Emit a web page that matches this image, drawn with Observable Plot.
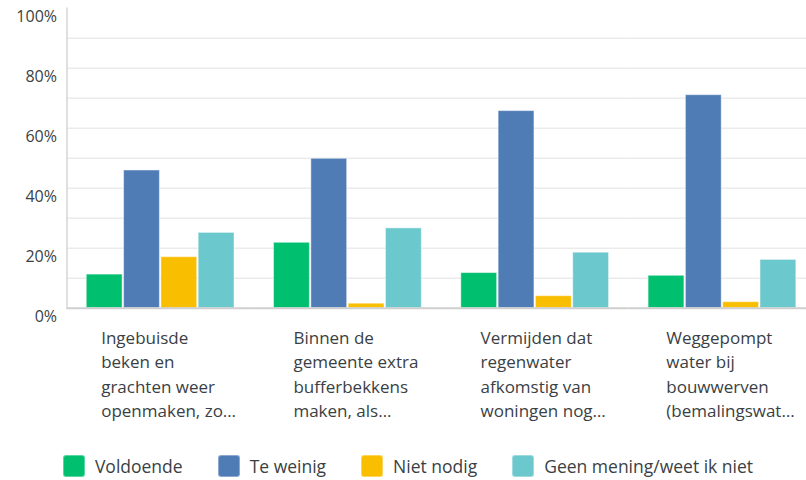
<!DOCTYPE html>
<html>
<head>
<meta charset="utf-8">
<script src="https://cdn.jsdelivr.net/npm/d3@7"></script>
<script src="https://cdn.jsdelivr.net/npm/@observablehq/plot@0.6"></script>
<style>
  html, body { margin: 0; padding: 0; background: #fff; }
  #chart svg { display: block; overflow: visible; }
  .legend { display: flex; justify-content: center; align-items: center; gap: 35px; padding-top: 14px; padding-left: 10px;
    font-family: "Open Sans", sans-serif; font-size: 17.5px; color: #3a3f45; }
  .legend .item { display: flex; align-items: center; gap: 10px; }
  .legend .sw { width: 22px; height: 22px; border-radius: 3px; box-sizing: border-box; }
</style>
</head>
<body>
<div id="chart"></div>
<div class="legend" id="legend"></div>
<script>
// ---- data ----
const questions = [
  "Ingebuisde\nbeken en\ngrachten weer\nopenmaken, zo…",
  "Binnen de\ngemeente extra\nbufferbekkens\nmaken, als…",
  "Vermijden dat\nregenwater\nafkomstig van\nwoningen nog…",
  "Weggepompt\nwater bij\nbouwwerven\n(bemalingswat…"
];
const series = ["Voldoende", "Te weinig", "Niet nodig", "Geen mening/weet ik niet"];
const colors = ["#00bf6f", "#507cb6", "#f9be00", "#6bc8cd"];
const voldoende  = [11.2, 21.8, 11.7, 10.8];
const teWeinig   = [45.9, 49.8, 65.7, 71.0];
const nietNodig  = [17.0, 1.5, 4.0, 2.0];
const geenMening = [25.1, 26.6, 18.5, 16.1];
const yTicks = [0, 20, 40, 60, 80, 100];
const gridTicks = [10, 20, 30, 40, 50, 60, 70, 80, 90];

const valuesBySeries = [voldoende, teWeinig, nietNodig, geenMening];
const rows = [];
questions.forEach((q, qi) => {
  series.forEach((s, si) => rows.push({question: q, series: s, value: valuesBySeries[si][qi]}));
});

const chart = Plot.plot({
  width: 806,
  height: 440,
  marginLeft: 66.5,
  marginRight: -9.6,
  marginTop: 7.7,
  marginBottom: 132.3,
  style: {fontFamily: "'Open Sans', sans-serif", color: "#3a3f45", background: "#fff"},
  fx: {domain: questions, paddingInner: 0, paddingOuter: 0, round: false, axis: null, label: null},
  x: {domain: series, paddingInner: 0.04, paddingOuter: 0.53, round: false, axis: null, label: null},
  y: {domain: [0, 100], axis: null, label: null},
  color: {domain: series, range: colors},
  marks: [
    Plot.gridY(gridTicks, {stroke: "#ebebeb", strokeOpacity: 1, strokeWidth: 1.5}),
    Plot.barY(rows, {fx: "question", x: "series", y: "value", fill: "series",
      stroke: "#ffffff", strokeOpacity: 0.45, strokeWidth: 1}),
    Plot.ruleY([0], {stroke: "#cfcfcf", strokeWidth: 2}),
    Plot.frame({anchor: "left", stroke: "#d6d6d6", strokeWidth: 1.5, facetAnchor: "left"}),
    Plot.axisY(yTicks, {tickSize: 0, tickPadding: 10, dy: 9, fontSize: 16, label: null,
      tickFormat: d => d + "%", fill: "#3a3f45"}),
    Plot.text(questions, {fx: d => d, text: d => d, frameAnchor: "bottom",
      lineAnchor: "top", dy: 19, fontSize: 17, lineHeight: 1.42, textAnchor: "middle",
      fill: "#3a3f45", className: "xlabel"})
  ]
});
document.getElementById("chart").appendChild(chart);

// left-align the lines of each category label inside a block centred under its group
chart.querySelectorAll('.xlabel text').forEach(t => {
  const w = t.getBBox().width;
  t.setAttribute("text-anchor", "start");
  const tr = t.getAttribute("transform") || "";
  t.setAttribute("transform", tr + ` translate(${-w / 2 + 8},0)`);
});

// legend
const lg = document.getElementById("legend");
series.forEach((s, i) => {
  const it = document.createElement("div");
  it.className = "item";
  const sw = document.createElement("div");
  sw.className = "sw";
  sw.style.background = colors[i];
  sw.style.border = "1px solid rgba(255,255,255,0.35)";
  const tx = document.createElement("span");
  tx.textContent = s;
  it.appendChild(sw); it.appendChild(tx);
  lg.appendChild(it);
});
</script>
</body>
</html>
